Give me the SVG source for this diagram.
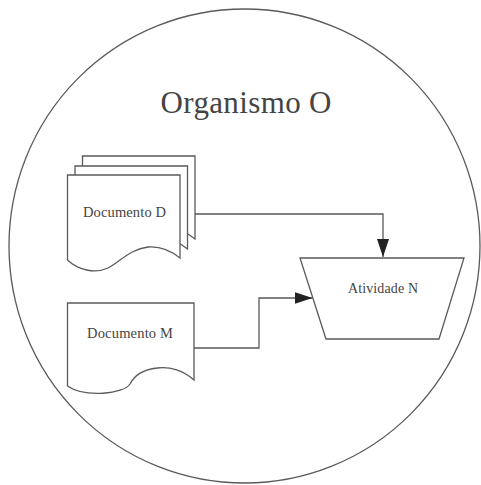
<svg xmlns="http://www.w3.org/2000/svg" width="481" height="485" viewBox="0 0 481 485">
<style>
.shape{fill:#fff;stroke:#5a5a5a;stroke-width:1.3}
.conn{fill:none;stroke:#5a5a5a;stroke-width:1.3}
.lbl{font-family:"Liberation Serif","Times New Roman",serif;fill:#444;text-anchor:middle}
.small{font-size:14.5px}
</style>
<defs>
<marker id="arr" markerWidth="18" markerHeight="12" refX="18" refY="6" orient="auto" markerUnits="userSpaceOnUse">
<path d="M0,0 L18,6 L0,12 Z" fill="#222"/>
</marker>
<path id="docD" d="M67.5,175 H180 V258 C170,250 160,246 148,247 C130,249 120,262 108,268 C95,274 78,270 67.5,260 Z"/>
</defs>
<rect width="481" height="485" fill="#fff"/>
<g id="organismo">
<ellipse cx="244.5" cy="246" rx="235.5" ry="237" fill="none" stroke="#5a5a5a" stroke-width="1.3"/>
<text class="lbl" x="246" y="113" font-size="31" textLength="171" lengthAdjust="spacing">Organismo O</text>
</g>
<g id="connectors">
<path class="conn" d="M194,214 H383 V257" marker-end="url(#arr)"/>
<path class="conn" d="M194,348 H259 V298 H312.5" marker-end="url(#arr)"/>
</g>
<g id="documento-d">
<use href="#docD" class="shape" transform="translate(15,-19)"/>
<use href="#docD" class="shape" transform="translate(7.5,-9)"/>
<use href="#docD" class="shape"/>
<text class="lbl small" x="124.5" y="217" textLength="83" lengthAdjust="spacing">Documento D</text>
</g>
<g id="documento-m">
<path class="shape" d="M67.5,303 H194 V380 C184,371 170,366 157,368 C140,370 133,378 130,384 C124,394 85,398 67.5,386 Z"/>
<text class="lbl small" x="130" y="338" textLength="86" lengthAdjust="spacing">Documento M</text>
</g>
<g id="atividade-n">
<path class="shape" d="M300,258 H464 L439,339 H326 Z"/>
<text class="lbl" x="383" y="293" font-size="14" textLength="70" lengthAdjust="spacing">Atividade N</text>
</g>
</svg>
